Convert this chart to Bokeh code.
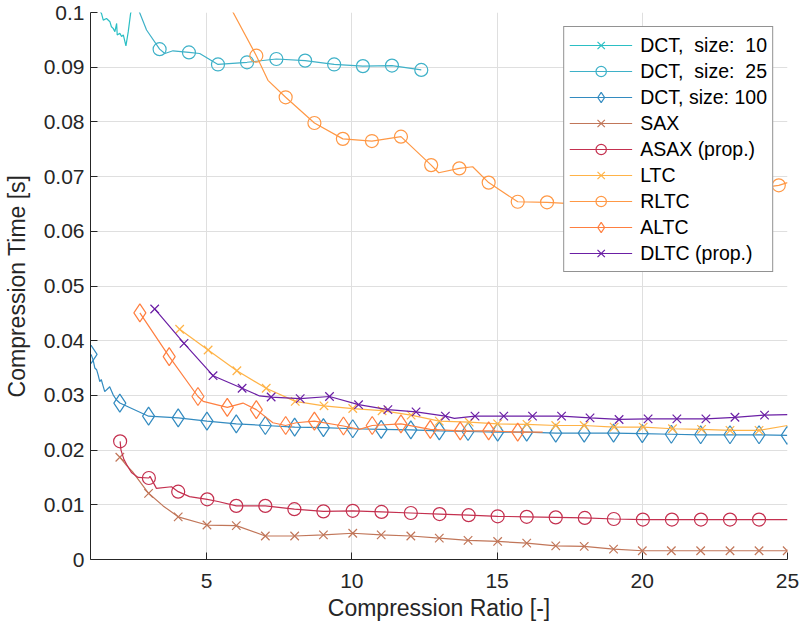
from bokeh.plotting import figure
from bokeh.models import Range1d, FixedTicker, CustomJSTickFormatter, Legend, LegendItem
from bokeh.core.properties import value
from bokeh.embed import file_html
from bokeh.resources import INLINE

FONT = "Liberation Sans"

# ---------------- data ----------------
x_ticks = [5, 10, 15, 20, 25]
y_ticks = [0, 0.01, 0.02, 0.03, 0.04, 0.05, 0.06, 0.07, 0.08, 0.09, 0.1]

dct10_x = [1.00, 1.30, 1.38, 1.44, 1.55, 1.67, 1.72, 1.78, 1.84, 1.90, 1.92, 2.01, 2.07, 2.13, 2.22, 2.30, 2.38, 2.41, 2.60, 3.10, 4.10, 5.10]
dct10_y = [0.1060, 0.1005, 0.0998, 0.0986, 0.0989, 0.0983, 0.0974, 0.0971, 0.0965, 0.0980, 0.0959, 0.0962, 0.0956, 0.0959, 0.0939, 0.0965, 0.0998, 0.1004, 0.1080, 0.1120, 0.1110, 0.1100]
dct10_m = [1, 0, 0, 0, 0, 0, 0, 0, 0, 0, 0, 0, 0, 0, 0, 0, 0, 0, 0, 1, 1, 1]

dct25_x = [2.39, 2.93, 3.38, 3.56, 3.84, 4.39, 4.76, 5.39, 6.39, 7.40, 8.39, 9.39, 10.38, 11.38, 12.39]
dct25_y = [0.1040, 0.0968, 0.0933, 0.0925, 0.0930, 0.0927, 0.0925, 0.0905, 0.0909, 0.0915, 0.0912, 0.0905, 0.0902, 0.0903, 0.0895]
dct25_m = [1, 0, 1, 0, 0, 1, 0, 1, 1, 1, 1, 1, 1, 1, 1]

dct100_x = [1.02, 1.09, 1.15, 1.21, 1.26, 1.32, 1.37, 1.44, 1.49, 1.61, 1.66, 1.78, 1.89, 2.01, 3.00, 4.02, 5.01, 6.02, 7.02, 8.03, 9.02, 10.03, 11.01, 12.03, 13.01, 14.00, 15.02, 16.02, 17.02, 18.00, 19.01, 20.00, 21.00, 22.01, 23.02, 24.02, 24.99]
dct100_y = [0.0375, 0.0365, 0.0350, 0.0347, 0.0338, 0.0325, 0.0329, 0.0316, 0.0307, 0.0313, 0.0316, 0.0301, 0.0292, 0.0286, 0.0262, 0.0259, 0.0253, 0.0248, 0.0245, 0.0242, 0.0241, 0.0239, 0.0238, 0.0237, 0.0235, 0.0234, 0.0233, 0.0233, 0.0231, 0.0231, 0.0231, 0.0230, 0.0229, 0.0228, 0.0228, 0.0228, 0.0227]
dct100_m = [1, 0, 0, 0, 0, 0, 0, 0, 0, 0, 0, 0, 0] + [1] * 24

sax_x = [2.01, 2.24, 2.47, 3.00, 3.50, 4.02, 5.01, 6.02, 7.02, 8.03, 9.02, 10.03, 11.01, 12.03, 13.01, 14.00, 15.02, 16.02, 17.02, 18.00, 19.01, 20.00, 21.00, 22.01, 23.02, 24.02, 24.99]
sax_y = [0.0187, 0.0172, 0.0159, 0.0121, 0.0098, 0.0078, 0.0063, 0.0062, 0.0043, 0.0043, 0.0045, 0.0048, 0.0045, 0.0043, 0.0039, 0.0035, 0.0033, 0.0030, 0.0025, 0.0024, 0.0019, 0.0016, 0.0016, 0.0016, 0.0016, 0.0016, 0.0016]
sax_m = [1, 0, 0, 1, 0] + [1] * 22

asax_x = [2.02, 2.05, 2.15, 2.24, 2.41, 2.64, 3.01, 3.05, 3.27, 3.79, 4.02, 4.41, 5.02, 5.39, 6.02, 7.02, 8.02, 9.02, 10.03, 11.02, 12.03, 13.02, 14.02, 15.02, 16.02, 17.02, 18.02, 19.02, 20.02, 21.02, 22.02, 23.02, 24.02, 25.00]
asax_y = [0.0216, 0.0200, 0.0183, 0.0174, 0.0159, 0.0150, 0.0149, 0.0152, 0.0130, 0.0133, 0.0124, 0.0115, 0.0110, 0.0106, 0.0098, 0.0098, 0.0092, 0.0088, 0.0089, 0.0087, 0.0085, 0.0083, 0.0081, 0.0079, 0.0078, 0.0077, 0.0076, 0.0074, 0.0073, 0.0073, 0.0073, 0.0073, 0.0073, 0.0073]
asax_m = [1, 0, 0, 0, 0, 0, 1, 0, 0, 0, 1, 0, 1, 0] + [1] * 19 + [0]

ltc_x = [4.07, 5.05, 6.04, 7.05, 8.05, 9.04, 10.03, 11.04, 12.04, 13.01, 14.04, 15.02, 16.03, 17.02, 18.00, 19.03, 20.03, 21.04, 22.04, 23.02, 24.02, 25.00]
ltc_y = [0.0421, 0.0383, 0.0345, 0.0313, 0.0289, 0.0281, 0.0276, 0.0272, 0.0264, 0.0253, 0.0251, 0.0248, 0.0247, 0.0245, 0.0245, 0.0242, 0.0242, 0.0239, 0.0238, 0.0236, 0.0236, 0.0245]
ltc_m = [1] * 21 + [0]

rltc_x = [5.71, 6.71, 7.11, 7.72, 8.71, 9.69, 10.69, 11.69, 12.73, 12.99, 13.70, 14.16, 14.71, 15.71, 16.72, 17.71, 18.71, 19.71, 20.71, 21.71, 22.71, 23.71, 24.70, 25.00]
rltc_y = [0.1020, 0.0921, 0.0876, 0.0845, 0.0798, 0.0769, 0.0765, 0.0773, 0.0721, 0.0707, 0.0715, 0.0718, 0.0689, 0.0654, 0.0653, 0.0650, 0.0658, 0.0655, 0.0663, 0.0668, 0.0672, 0.0677, 0.0684, 0.0689]
rltc_m = [1, 1, 0, 1, 1, 1, 1, 1, 1, 0, 1, 0, 1, 1, 1, 1, 1, 1, 1, 1, 1, 1, 1, 0]

altc_x = [2.70, 3.71, 4.70, 4.88, 5.71, 6.25, 6.71, 7.28, 7.72, 8.08, 8.71, 9.71, 10.26, 10.70, 11.69, 12.70, 13.73, 14.71, 15.71, 16.57]
altc_y = [0.0451, 0.0371, 0.0298, 0.0289, 0.0278, 0.0286, 0.0274, 0.0250, 0.0245, 0.0250, 0.0253, 0.0244, 0.0238, 0.0245, 0.0248, 0.0238, 0.0235, 0.0235, 0.0233, 0.0233]
altc_m = [1, 1, 1, 0, 1, 0, 1, 0, 1, 0, 1, 1, 0, 1, 1, 1, 1, 1, 1, 0]

dltc_x = [3.21, 4.22, 5.22, 6.22, 6.82, 7.22, 8.22, 9.23, 10.23, 11.24, 12.21, 13.22, 13.53, 14.24, 15.23, 16.22, 17.22, 18.20, 19.20, 20.20, 21.19, 22.19, 23.19, 24.21, 25.00]
dltc_y = [0.0458, 0.0395, 0.0336, 0.0313, 0.0299, 0.0297, 0.0294, 0.0298, 0.0283, 0.0274, 0.0270, 0.0262, 0.0258, 0.0262, 0.0262, 0.0262, 0.0262, 0.0259, 0.0256, 0.0257, 0.0257, 0.0257, 0.0260, 0.0264, 0.0265]
dltc_m = [1, 1, 1, 1, 0, 1, 1, 1, 1, 1, 1, 1, 0, 1, 1, 1, 1, 1, 1, 1, 1, 1, 1, 1, 0]

labels = ["DCT,  size:  10", "DCT,  size:  25", "DCT, size: 100", "SAX", "ASAX (prop.)",
          "LTC", "RLTC", "ALTC", "DLTC (prop.)"]

# ---------------- styling ----------------
series = [
    (labels[0], dct10_x, dct10_y, dct10_m, "x", "#2bbfc4", 12),
    (labels[1], dct25_x, dct25_y, dct25_m, "circle", "#3eb1c8", 13),
    (labels[2], dct100_x, dct100_y, dct100_m, "diamond", "#338bc0", 18),
    (labels[3], sax_x, sax_y, sax_m, "x", "#c17659", 12),
    (labels[4], asax_x, asax_y, asax_m, "circle", "#c4304f", 13),
    (labels[5], ltc_x, ltc_y, ltc_m, "x", "#ffb347", 12),
    (labels[6], rltc_x, rltc_y, rltc_m, "circle", "#ff9845", 13),
    (labels[7], altc_x, altc_y, altc_m, "diamond", "#ff7f40", 18),
    (labels[8], dltc_x, dltc_y, dltc_m, "x", "#6b1fa5", 12),
]

p = figure(width=803, height=630, output_backend="svg", toolbar_location=None,
           x_range=Range1d(1, 25), y_range=Range1d(0, 0.1),
           min_border_left=89, min_border_right=16, min_border_top=12, min_border_bottom=71,
           background_fill_color="white", border_fill_color="white")
p.outline_line_color = None

items = []
for label, xs, ys, ms, marker, color, msize in series:
    lr = p.line(xs, ys, line_color=color, line_width=1.2)
    mx = [x for x, m in zip(xs, ms) if m]
    my = [y for y, m in zip(ys, ms) if m]
    sr = p.scatter(mx, my, marker=marker, size=msize, line_color=color,
                   fill_color=None, line_width=1.2)
    items.append(LegendItem(label=value(label), renderers=[lr, sr]))

p.xaxis.ticker = FixedTicker(ticks=x_ticks)
p.yaxis.ticker = FixedTicker(ticks=y_ticks)
p.xgrid.ticker = FixedTicker(ticks=x_ticks)
p.ygrid.ticker = FixedTicker(ticks=y_ticks)
p.yaxis.formatter = CustomJSTickFormatter(code="return String(Math.round(tick*100)/100);")
p.grid.grid_line_color = "#dfdfdf"
p.grid.grid_line_width = 1

p.xaxis.axis_label = "Compression Ratio [-]"
p.yaxis.axis_label = "Compression Time [s]"
for ax in (p.xaxis[0], p.yaxis[0]):
    ax.axis_line_color = "#262626"
    ax.axis_line_width = 1
    ax.major_tick_line_color = "#262626"
    ax.major_tick_in = 7
    ax.major_tick_out = 0
    ax.minor_tick_in = 0
    ax.minor_tick_out = 0
    ax.major_label_text_font = FONT
    ax.major_label_text_font_size = "21px"
    ax.major_label_text_color = "#262626"
    ax.axis_label_text_font = FONT
    ax.axis_label_text_font_size = "23px"
    ax.axis_label_text_font_style = "normal"
    ax.axis_label_text_color = "#262626"
p.xaxis.major_label_standoff = 14
p.xaxis.axis_label_standoff = 4
p.yaxis.major_label_standoff = 6
p.yaxis.axis_label_standoff = 11

legend = Legend(items=items, location="top_right", margin=14,
                border_line_color="#262626", border_line_width=1,
                background_fill_color="white", background_fill_alpha=1.0,
                label_text_font=FONT, label_text_font_size="19.5px", label_text_color="black",
                glyph_width=63, glyph_height=26, spacing=0, padding=5, label_standoff=8)
p.add_layout(legend)

open("out.html", "w").write(file_html(p, INLINE))
